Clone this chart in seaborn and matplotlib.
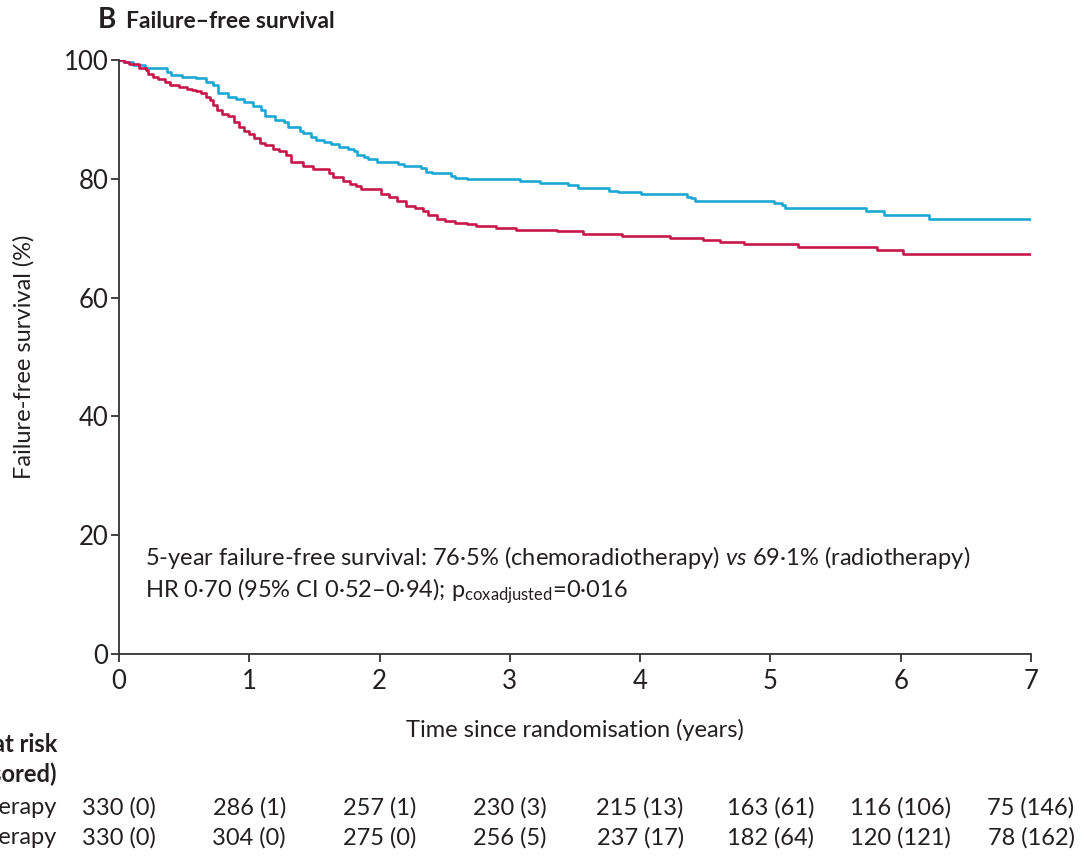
import numpy as np
import pandas as pd
import matplotlib
matplotlib.use("Agg")
import matplotlib.pyplot as plt
import matplotlib.transforms as mtransforms
import seaborn as sns

# ---- data ----
crt_time = [0, 0.04, 0.11, 0.20, 0.37, 0.40, 0.48, 0.59, 0.67, 0.72, 0.76, 0.84, 0.90, 0.96,
            1.03, 1.09, 1.12, 1.20, 1.27, 1.30, 1.39, 1.41, 1.47, 1.51, 1.57, 1.63, 1.69,
            1.76, 1.80, 1.83, 1.88, 1.91, 1.98, 2.14, 2.19, 2.32, 2.36, 2.40, 2.55, 2.58,
            2.67, 3.08, 3.23, 3.45, 3.52, 3.76, 3.83, 4.01, 4.36, 4.39, 4.42, 5.03, 5.09,
            5.11, 5.73, 5.87, 6.22, 7.0]
crt_surv = [100, 99.7, 99.2, 98.7, 98.0, 97.5, 97.2, 96.9, 96.3, 95.8, 94.4, 93.8, 93.5, 93.0,
            92.2, 91.6, 90.5, 89.9, 89.6, 88.8, 88.0, 87.7, 87.1, 86.6, 86.2, 85.9, 85.4,
            85.0, 84.6, 84.0, 83.6, 83.3, 82.9, 82.5, 82.2, 81.8, 81.2, 80.9, 80.5, 80.2,
            79.9, 79.6, 79.3, 79.0, 78.4, 78.0, 77.7, 77.4, 77.0, 76.7, 76.3, 76.0, 75.6,
            75.0, 74.5, 73.9, 73.2, 73.2]

rt_time = [0, 0.04, 0.08, 0.15, 0.21, 0.22, 0.26, 0.30, 0.35, 0.39, 0.46, 0.52, 0.56, 0.59,
           0.63, 0.67, 0.70, 0.72, 0.75, 0.79, 0.84, 0.88, 0.92, 0.96, 1.00, 1.04, 1.08,
           1.12, 1.18, 1.23, 1.28, 1.32, 1.41, 1.49, 1.61, 1.64, 1.72, 1.77, 1.82, 1.86,
           2.01, 2.07, 2.13, 2.20, 2.27, 2.33, 2.37, 2.44, 2.50, 2.58, 2.67, 2.74, 2.89,
           3.05, 3.36, 3.56, 3.86, 4.23, 4.48, 4.61, 4.80, 5.21, 5.82, 6.02, 7.0]
rt_surv = [100, 99.7, 99.4, 98.7, 98.3, 97.6, 97.2, 96.8, 96.3, 95.8, 95.5, 95.2, 95.0, 94.8,
           94.4, 93.8, 93.3, 92.4, 91.6, 90.9, 90.5, 89.6, 88.8, 88.0, 87.5, 86.8, 86.1,
           85.7, 85.1, 84.6, 84.0, 82.9, 82.1, 81.6, 80.9, 80.3, 79.7, 79.2, 78.8, 78.2,
           77.5, 76.9, 76.3, 75.4, 75.0, 74.5, 73.9, 73.3, 72.9, 72.6, 72.4, 72.1, 71.7,
           71.4, 71.2, 70.7, 70.4, 70.0, 69.7, 69.4, 69.0, 68.5, 68.0, 67.4, 67.4]

arms = ["Chemoradiotherapy", "Radiotherapy"]
risk_times = [0, 1, 2, 3, 4, 5, 6, 7]
risk_crt = ["330 (0)", "286 (1)", "257 (1)", "230 (3)", "215 (13)", "163 (61)", "116 (106)", "75 (146)"]
risk_rt = ["330 (0)", "304 (0)", "275 (0)", "256 (5)", "237 (17)", "182 (64)", "120 (121)", "78 (162)"]

colors = {"Chemoradiotherapy": "#1CA8D2", "Radiotherapy": "#C8184B"}

df = pd.concat([
    pd.DataFrame({"time": crt_time, "surv": crt_surv, "arm": arms[0]}),
    pd.DataFrame({"time": rt_time, "surv": rt_surv, "arm": arms[1]}),
], ignore_index=True)

sns.set_theme(style="white")
FONT = "Lato"
plt.rcParams["font.family"] = [FONT, "DejaVu Sans"]
plt.rcParams["mathtext.fontset"] = "custom"
plt.rcParams["mathtext.rm"] = FONT
plt.rcParams["mathtext.it"] = FONT + ":italic"
TXT = "#231F20"
FS = 17
TFS = 18.5

fig = plt.figure(figsize=(10.84, 8.59), dpi=100)
ax = fig.add_axes([119 / 1084, 1 - 654 / 859, (1031 - 119) / 1084, (654 - 60) / 859])

sns.lineplot(data=df, x="time", y="surv", hue="arm", palette=colors, estimator=None,
             drawstyle="steps-post", linewidth=1.9, legend=False, ax=ax, sort=False)

ax.set_xlim(0, 7)
ax.set_ylim(0, 100)
ax.set_xticks(risk_times)
ax.set_yticks([0, 20, 40, 60, 80, 100])
for s in ["top", "right"]:
    ax.spines[s].set_visible(False)
for s in ["left", "bottom"]:
    ax.spines[s].set_color("#333333")
    ax.spines[s].set_linewidth(1.3)
ax.tick_params(axis="both", direction="out", length=6, width=1.3, color="#333333",
               labelsize=TFS, labelcolor=TXT, left=True, bottom=True)
ax.tick_params(axis="y", pad=1.5)
ax.tick_params(axis="x", pad=5)
ax.set_xlabel("Time since randomisation (years)", fontsize=FS, color=TXT, labelpad=18)
ax.set_ylabel("Failure-free survival (%)", fontsize=FS, color=TXT, labelpad=21)

ax.text(0.2, 16.2, "5-year failure-free survival: 76·5% (chemoradiotherapy) $\\it{vs}$ 69·1% (radiotherapy)",
        fontsize=FS, color=TXT, va="center", ha="left")
ax.text(0.2, 10.6, "HR 0·70 (95% CI 0·52–0·94); p$_\\mathregular{coxadjusted}$=0·016",
        fontsize=FS, color=TXT, va="center", ha="left")

# title
fig.text(98 / 1084, 1 - 20 / 859, "B", fontsize=20, fontweight="bold", color=TXT, va="center")
fig.text(126 / 1084, 1 - 21 / 859, "Failure–free survival", fontsize=16.5, fontweight="bold",
         color=TXT, va="center")

# number at risk table
trans = mtransforms.blended_transform_factory(ax.transData, fig.transFigure)
fig.text(57 / 1084, 1 - 744 / 859, "Number at risk", fontsize=FS, fontweight="bold", color=TXT,
         ha="right", va="center")
fig.text(57 / 1084, 1 - 774 / 859, "(number censored)", fontsize=FS, fontweight="bold", color=TXT,
         ha="right", va="center")
fig.text(57 / 1084, 1 - 808 / 859, arms[0], fontsize=FS, color=TXT, ha="right", va="center")
fig.text(57 / 1084, 1 - 838 / 859, arms[1], fontsize=FS, color=TXT, ha="right", va="center")
for t, a, b in zip(risk_times, risk_crt, risk_rt):
    ax.text(t, 1 - 808 / 859, a, transform=trans, fontsize=FS, color=TXT, ha="center",
            va="center", clip_on=False)
    ax.text(t, 1 - 838 / 859, b, transform=trans, fontsize=FS, color=TXT, ha="center",
            va="center", clip_on=False)

fig.savefig("out.png", dpi=100)
